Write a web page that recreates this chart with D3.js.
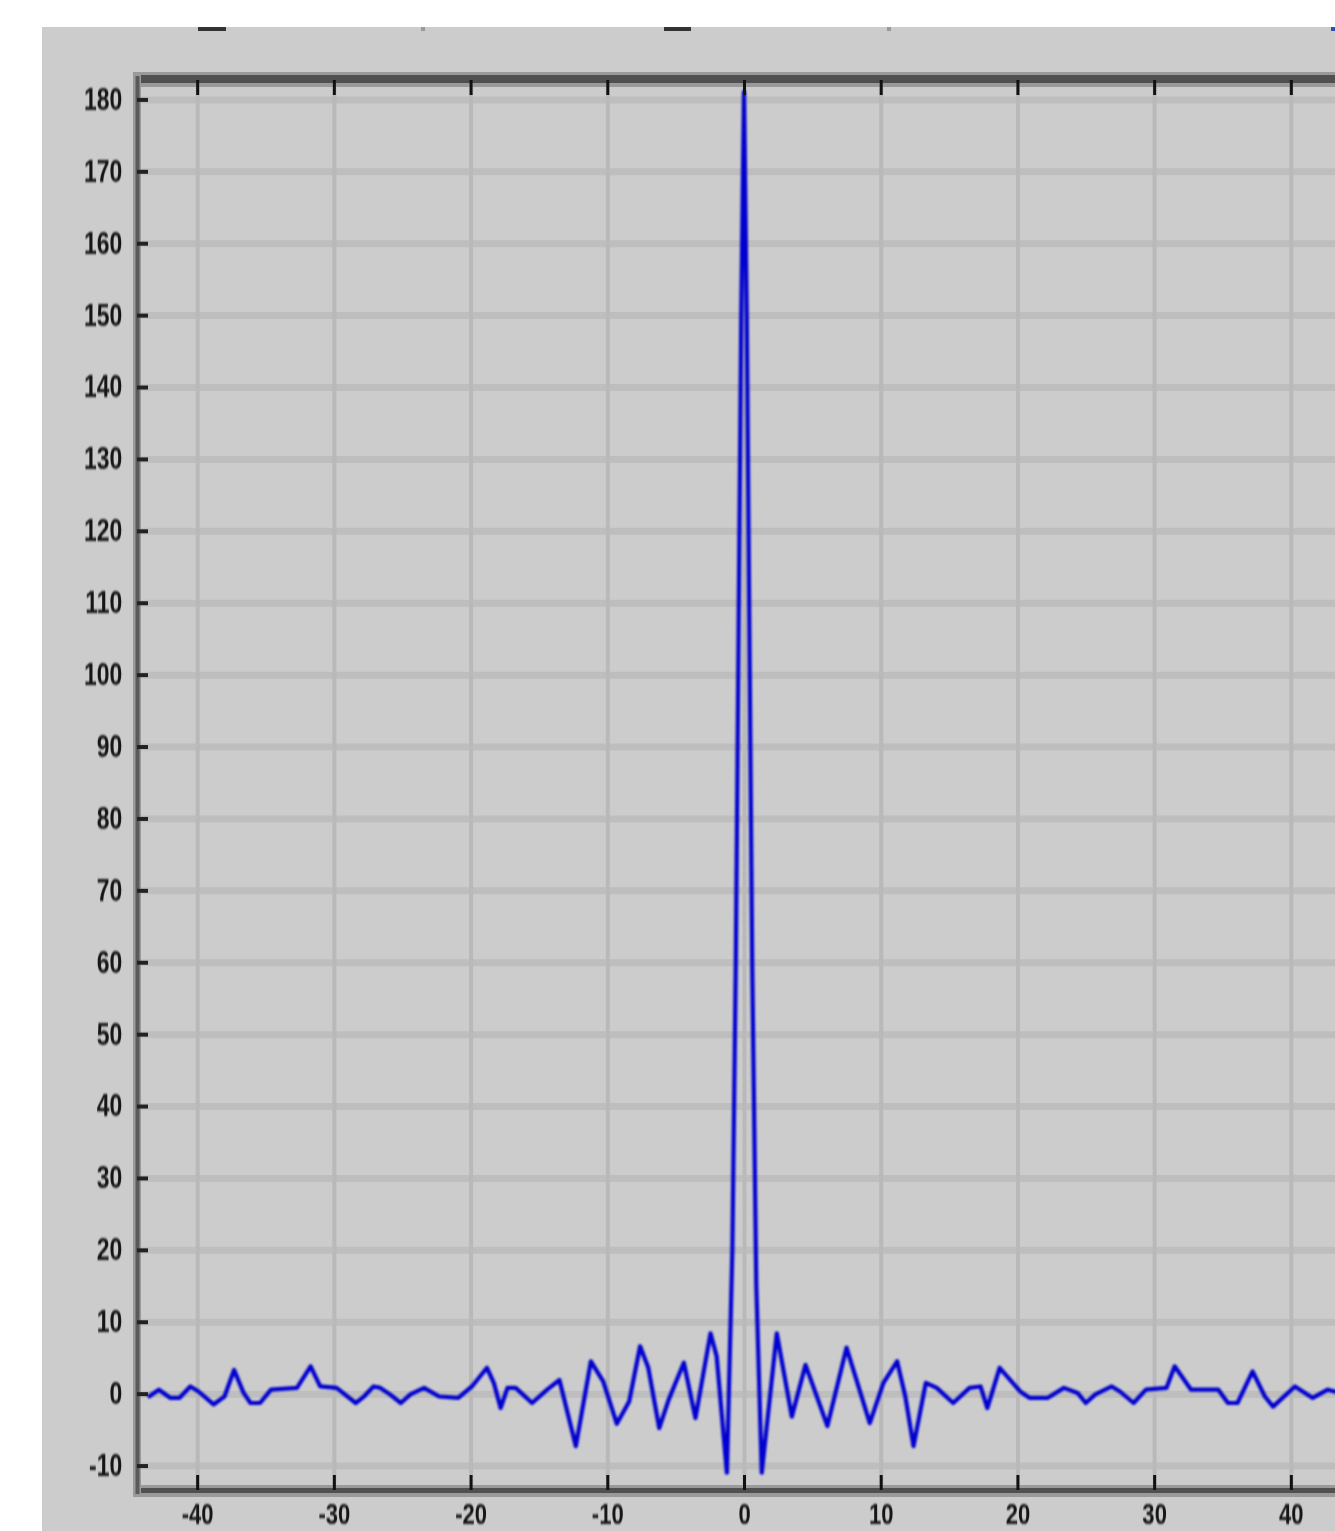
<!DOCTYPE html>
<html>
<head>
<meta charset="utf-8">
<script src="https://cdn.jsdelivr.net/npm/d3@7/dist/d3.min.js"></script>
<style>
  html, body { margin: 0; padding: 0; background: #ffffff; }
  svg { display: block; }
</style>
</head>
<body>
<svg id="chart" width="1335" height="1531"></svg>
<script>
// ---- data ----
const xValues = [-43.6, -42.8, -41.95, -41.3, -40.5, -39.9, -38.8, -38.0, -37.3, -36.6, -36.1, -35.4, -34.6,
  -32.7, -31.7, -31.0, -29.8, -29.2, -28.4, -27.8, -27.1, -26.6, -25.9, -25.1, -24.4, -23.4, -22.3, -20.9,
  -19.9, -18.8, -18.3, -17.8, -17.3, -16.7, -15.5, -14.4, -13.5, -12.3, -11.2, -10.3, -9.3, -8.4, -7.6,
  -7.0, -6.2, -5.5, -4.4, -3.55, -2.45, -2.0, -1.25, -0.85, -0.6, -0.4, -0.2, 0, 0.2, 0.4, 0.6, 0.9, 1.3,
  2.4, 3.5, 4.5, 6.1, 7.5, 9.2, 10.2, 11.2, 11.8, 12.4, 13.3, 14.1, 15.3, 16.5, 17.3, 17.8, 18.7, 20.2,
  20.9, 22.2, 23.4, 24.4, 25.0, 25.7, 26.9, 27.5, 28.5, 29.4, 30.9, 31.5, 32.7, 34.7, 35.4, 36.1, 37.2,
  38.1, 38.7, 40.3, 41.6, 42.7, 44.4];
const yValues = [-0.5, 0.55, -0.6, -0.6, 1.0, 0.3, -1.5, -0.4, 3.3, 0.1, -1.3, -1.3, 0.55,
  0.8, 3.8, 1.0, 0.8, -0.1, -1.3, -0.4, 1.0, 0.8, -0.1, -1.3, -0.1, 0.8, -0.4, -0.6,
  1.0, 3.6, 1.5, -2.0, 0.8, 0.8, -1.3, 0.55, 1.9, -7.3, 4.5, 1.7, -4.2, -1.1, 6.6,
  3.6, -4.8, -0.8, 4.3, -3.4, 8.4, 5.2, -11.0, 20, 60, 105, 150, 181, 150, 105, 60, 15, -11.0,
  8.4, -3.2, 4.0, -4.5, 6.4, -4.1, 1.5, 4.5, -0.4, -7.3, 1.5, 0.8, -1.3, 0.8, 1.0, -2.0, 3.6, 0.3,
  -0.6, -0.6, 0.8, 0.1, -1.3, -0.1, 1.0, 0.3, -1.3, 0.55, 0.8, 3.8, 0.55, 0.55, -1.3, -1.3, 3.1,
  -0.4, -1.8, 1.0, -0.6, 0.55, -0.3];
const xTicks = [-40, -30, -20, -10, 0, 10, 20, 30, 40];
const yTicks = [-10, 0, 10, 20, 30, 40, 50, 60, 70, 80, 90, 100, 110, 120, 130, 140, 150, 160, 170, 180];
const xDomain = [-44.4, 44.4];
const yDomain = [-13.4, 182.7];

// ---- layout ----
const svg = d3.select("#chart");
const W = 1335, H = 1531;
const plotLeft = 137, plotRight = 1351, plotTop = 80, plotBottom = 1490;

const x = d3.scaleLinear().domain(xDomain).range([plotLeft, plotRight]);
const y = d3.scaleLinear().domain(yDomain).range([plotBottom, plotTop]);

const defs = svg.append("defs");
defs.append("filter").attr("id", "soft").attr("x", "-5%").attr("y", "-5%").attr("width", "110%").attr("height", "110%")
  .append("feGaussianBlur").attr("stdDeviation", 0.8);
defs.append("clipPath").attr("id", "plotclip").append("rect")
  .attr("x", plotLeft).attr("y", plotTop).attr("width", plotRight - plotLeft).attr("height", plotBottom - plotTop);

// gray panel
svg.append("rect").attr("x", 42).attr("y", 27).attr("width", W - 42).attr("height", H - 27).attr("fill", "#cccccc");

// remnants of the chart above (cut off)
const remnants = [
  {x0: 198, x1: 226, c: "#333"}, {x0: 421, x1: 425, c: "#999"},
  {x0: 664, x1: 691, c: "#333"}, {x0: 887, x1: 891, c: "#999"}, {x0: 1331, x1: 1335, c: "#3050b0"}
];
svg.append("g").selectAll("rect").data(remnants).join("rect")
  .attr("x", d => d.x0).attr("y", 27).attr("width", d => d.x1 - d.x0).attr("height", 4).attr("fill", d => d.c);

// gridlines
const grid = svg.append("g").attr("clip-path", "url(#plotclip)");
grid.append("g").attr("transform", `translate(${plotLeft},0)`)
  .call(d3.axisLeft(y).tickValues(yTicks).tickSize(-(plotRight - plotLeft)).tickFormat(""))
  .call(g => g.select(".domain").remove())
  .call(g => g.selectAll("line").attr("stroke", "#bebebe").attr("stroke-width", 7));
grid.append("g").attr("transform", `translate(0,${plotBottom})`)
  .call(d3.axisBottom(x).tickValues(xTicks).tickSize(-(plotBottom - plotTop)).tickFormat(""))
  .call(g => g.select(".domain").remove())
  .call(g => g.selectAll("line").attr("stroke", "#b9b9b9").attr("stroke-width", 4));

// data line
const pts = xValues.map((v, i) => [v, yValues[i]]);
const line = d3.line().x(d => x(d[0])).y(d => y(d[1]));
svg.append("g").attr("clip-path", "url(#plotclip)")
  .append("path").datum(pts)
  .attr("d", line)
  .attr("fill", "none")
  .attr("stroke", "#0000d0")
  .attr("stroke-width", 4.2)
  .attr("stroke-linejoin", "round")
  .attr("filter", "url(#soft)");

// frame
const frame = svg.append("g");
// top
frame.append("line").attr("x1", plotLeft - 4).attr("x2", W).attr("y1", plotTop - 0.5).attr("y2", plotTop - 0.5)
  .attr("stroke", "#9a9a9a").attr("stroke-width", 15);
frame.append("line").attr("x1", plotLeft - 2).attr("x2", W).attr("y1", plotTop - 1).attr("y2", plotTop - 1)
  .attr("stroke", "#505050").attr("stroke-width", 8);
// bottom
frame.append("line").attr("x1", plotLeft - 4).attr("x2", W).attr("y1", plotBottom + 1).attr("y2", plotBottom + 1)
  .attr("stroke", "#9a9a9a").attr("stroke-width", 12);
frame.append("line").attr("x1", plotLeft - 2).attr("x2", W).attr("y1", plotBottom + 0.5).attr("y2", plotBottom + 0.5)
  .attr("stroke", "#505050").attr("stroke-width", 5);
// left
frame.append("line").attr("x1", plotLeft).attr("x2", plotLeft).attr("y1", plotTop - 6).attr("y2", plotBottom + 6)
  .attr("stroke", "#9a9a9a").attr("stroke-width", 8);
frame.append("line").attr("x1", plotLeft + 0.5).attr("x2", plotLeft + 0.5).attr("y1", plotTop - 4).attr("y2", plotBottom + 4)
  .attr("stroke", "#5a5a5a").attr("stroke-width", 4);

// axes (ticks + labels)
const labelStyle = g => g.selectAll("text")
  .attr("font-family", "'Liberation Sans', Arial, sans-serif")
  .attr("font-size", 31)
  .attr("font-weight", "bold")
  .attr("fill", "#151515")
  .attr("filter", "url(#soft)");

svg.append("g").attr("transform", `translate(${plotLeft},0)`)
  .call(d3.axisLeft(y).tickValues(yTicks).tickSize(-11).tickPadding(20).tickFormat(d => String(d)))
  .call(g => g.select(".domain").remove())
  .call(g => g.selectAll("line").attr("stroke", "#222").attr("stroke-width", 4))
  .call(labelStyle)
  .call(g => g.selectAll("text").attr("transform", "scale(0.74,1)"));

svg.append("g").attr("transform", `translate(0,${plotBottom})`)
  .call(d3.axisBottom(x).tickValues(xTicks).tickSize(-15).tickPadding(13).tickFormat(d => String(d)))
  .call(g => g.select(".domain").remove())
  .call(g => g.selectAll("line").attr("stroke", "#111").attr("stroke-width", 3))
  .call(labelStyle)
  .call(g => g.selectAll("text").attr("font-size", 29).attr("transform", "scale(0.76,1)"));

svg.append("g").attr("transform", `translate(0,${plotTop})`)
  .call(d3.axisTop(x).tickValues(xTicks).tickSize(-15).tickFormat(""))
  .call(g => g.select(".domain").remove())
  .call(g => g.selectAll("line").attr("stroke", "#111").attr("stroke-width", 3));
</script>
</body>
</html>
